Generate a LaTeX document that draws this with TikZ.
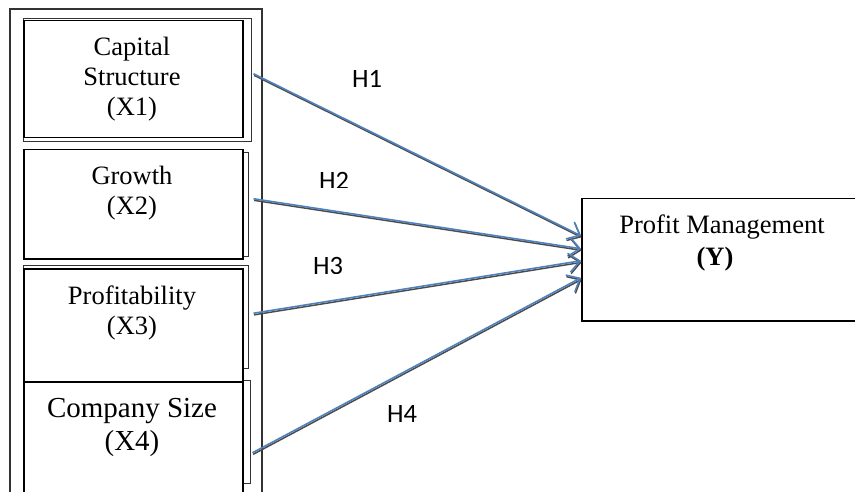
\documentclass[tikz,border=0pt]{standalone}
\usepackage{fontspec}
\setmainfont{Liberation Serif}
\newfontfamily\hfont{Carlito}
\usetikzlibrary{arrows.meta}
\definecolor{hblue}{RGB}{79,129,189}
\tikzset{
    hyp/.style={draw=hblue, line width=1.6pt,
        -{Straight Barb[length=11pt,width=19pt,line width=1.5pt]},
        preaction={draw=black!70, line width=1.5pt, transform canvas={shift={(0.6pt,-1.6pt)}}}},
    hlab/.style={font=\hfont\fontsize{26.5}{30}\selectfont},
}
\begin{document}
\begin{tikzpicture}[x=1pt,y=-1pt,font=\fontsize{26.5}{30}\selectfont]
        \useasboundingbox (0,0) rectangle (855,492);
        % frame and shadows
        \draw[line width=1.4pt, black!80] (10,9) rectangle (262,520);
        \begin{scope}[black!80, line width=1pt]
            \draw (23,19) rectangle (251,142);
            \draw (23,153) rectangle (248,256);
            \draw (23,265) rectangle (248,368);
            \draw (23,380) rectangle (250,483);
        \end{scope}
        \begin{scope}[every node/.style={draw,fill=white,line width=1.5pt,anchor=north west,inner sep=0pt,minimum width=219pt}]
            \node (x1) [minimum height=117pt] at (23,20) {};
            \node (x2) [minimum height=109pt] at (23,149) {};
            \node (x3) [minimum height=113pt] at (23,268) {};
            \node (x4) [minimum height=140pt] at (23,381) {};
            \node (y) [minimum width=300pt, minimum height=122pt] at (581,198) {};
        \end{scope}
        \begin{scope}[every node/.style={align=center}]
            \node (t1) at (132,79) {Capital\\Structure\\(X1)};
            \node (t2) at (132,193) {Growth\\(X2)};
            \node (t3) at (132,313) {Profitability\\(X3)};
            \node (t4) [font=\fontsize{29}{33}\selectfont] at (132,427) {Company Size\\(X4)};
            \node (ty) [font=\fontsize{26.5}{32}\selectfont] at (722,243) {Profit Management\\\textbf{(Y)}\hspace*{14pt}};
        \end{scope}
        % hypothesis labels (H2, H3 cut off at the bottom)
        \node (h1) [hlab] at (367,79) {H1};
        \begin{scope}
            \clip (290,150) rectangle (380,187.5);
            \node (h2) [hlab] at (334,181) {H2};
        \end{scope}
        \begin{scope}
            \clip (290,240) rectangle (380,273);
            \node (h3) [hlab] at (328,266) {H3};
        \end{scope}
        \node (h4) [hlab] at (402,414) {H4};
        \begin{scope}[every edge/.style={hyp}]
            \path
                ([xshift=10pt,yshift=5.5pt]x1.east) edge ([yshift=24pt]y.west)
                ([xshift=10pt,yshift=5.5pt]x2.east) edge ([yshift=11pt]y.west)
                ([xshift=10pt,yshift=12pt]x3.east) edge ([yshift=-1pt]y.west)
                ([xshift=9pt,yshift=-1pt]x4.east) edge ([yshift=-18pt]y.west);
        \end{scope}
    \end{tikzpicture}
\end{document}
